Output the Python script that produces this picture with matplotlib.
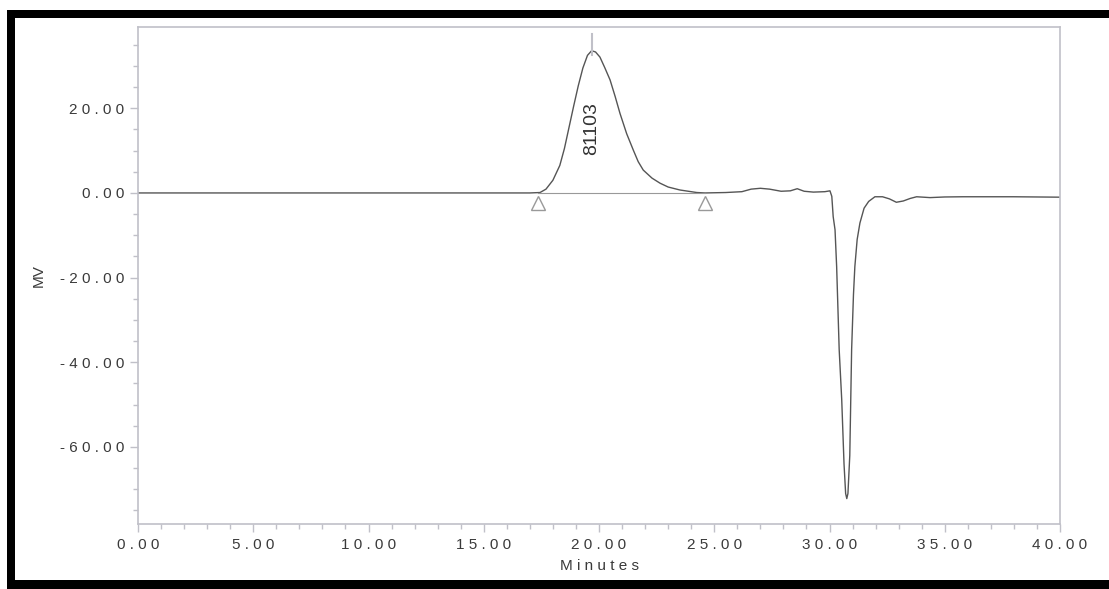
import matplotlib
matplotlib.use("Agg")
import matplotlib.pyplot as plt
from matplotlib.patches import Rectangle
from matplotlib.ticker import MultipleLocator, FuncFormatter

plt.rcParams['font.family'] = ['Liberation Sans', 'DejaVu Sans']

# chromatogram trace (minutes, mV)
minutes = [0.0, 5.0, 10.0, 15.0, 17.0, 17.44, 17.7, 18.0, 18.3, 18.5, 18.7, 18.9,
           19.1, 19.3, 19.5, 19.68, 19.85, 20.04, 20.25, 20.48, 20.7, 20.91, 21.2,
           21.49, 21.7, 21.92, 22.3, 22.65, 23.0, 23.51, 24.24, 24.6, 25.5, 26.2,
           26.6, 27.0, 27.4, 27.9, 28.3, 28.6, 28.9, 29.3, 29.8, 30.02, 30.1,
           30.16, 30.24, 30.31, 30.42, 30.53, 30.63, 30.7, 30.75, 30.8, 30.88,
           30.96, 31.04, 31.1, 31.2, 31.32, 31.5, 31.7, 31.97, 32.3, 32.6,
           32.9, 33.2, 33.5, 33.78, 34.36, 35.0, 35.8, 37.0, 37.96, 39.0, 40.0]
signal_mv = [0.0, 0.0, 0.0, 0.0, 0.0, 0.1, 0.9, 3.0, 6.5, 10.5, 15.5, 20.5,
             25.3, 29.5, 32.5, 33.6, 33.3, 32.1, 29.6, 26.7, 22.8, 18.8, 14.0,
             10.1, 7.4, 5.4, 3.5, 2.3, 1.4, 0.7, 0.1, 0.0, 0.1, 0.3,
             0.9, 1.1, 0.9, 0.4, 0.5, 1.0, 0.4, 0.2, 0.3, 0.5, -0.8,
             -5.6, -8.7, -17.4, -37.0, -48.8, -64.0, -71.0, -72.2, -71.0, -62.0,
             -37.0, -24.0, -17.4, -11.0, -7.1, -3.6, -2.0, -0.9, -0.9, -1.4,
             -2.2, -1.9, -1.3, -0.9, -1.1, -0.95, -0.9, -0.9, -0.9, -0.95, -1.0]

peak_time = 19.68
peak_label = "81103"
start_time, end_time = 17.35, 24.6

line_col = '#555555'
light = '#c0c0c8'
text_col = '#3a3a3a'

fig = plt.figure(figsize=(11.09, 5.89), dpi=100)
ax = fig.add_axes([138 / 1109, 1 - 524 / 589, 922 / 1109, 497 / 589])

ax.plot(minutes, signal_mv, color=line_col, lw=1.0)
ax.plot([start_time, end_time], [0, 0], color='#999999', lw=0.8)
ax.plot([peak_time, peak_time], [32.5, 37.5], color=light, lw=1.5)
ax.plot([start_time, end_time], [-2.4, -2.4], ls='none', marker='^', ms=10,
        mfc='white', mec='#999999', mew=1.0)
ax.text(peak_time, 15.3, peak_label, rotation=90, ha='center', va='center',
        fontsize=14, color='#333333')

ax.set_xlim(0, 40)
ax.set_ylim(-78.2, 39.2)
ax.xaxis.set_major_locator(MultipleLocator(5))
ax.xaxis.set_minor_locator(MultipleLocator(1))
ax.yaxis.set_major_locator(MultipleLocator(20))
ax.yaxis.set_minor_locator(MultipleLocator(5))
spaced = FuncFormatter(lambda v, p: ' '.join(f'{v:.2f}'))
ax.xaxis.set_major_formatter(spaced)
ax.yaxis.set_major_formatter(spaced)
ax.tick_params(which='major', length=6, width=1, color=light, labelsize=11,
               labelcolor=text_col)
ax.tick_params(which='minor', length=3.5, width=1, color=light)
ax.tick_params(axis='x', which='major', pad=4)
ax.tick_params(axis='y', which='major', pad=4)
for s in ax.spines.values():
    s.set_color(light)
    s.set_linewidth(1.2)

ax.set_xlabel(' '.join('Minutes'), fontsize=11, color=text_col, labelpad=5)
ax.set_ylabel('MV', fontsize=11, color=text_col)
ax.yaxis.set_label_coords(-0.1, 0.5)

# black scan border
W, H = 1109, 589
for x0, y0, w, h in [(7, 10, W - 7, 7.5), (7, 10, 8, H - 10), (7, 580, W - 7, 9)]:
    fig.add_artist(Rectangle((x0 / W, 1 - (y0 + h) / H), w / W, h / H,
                             transform=fig.transFigure, color='black', lw=0))

fig.savefig('out.png', dpi=100)
